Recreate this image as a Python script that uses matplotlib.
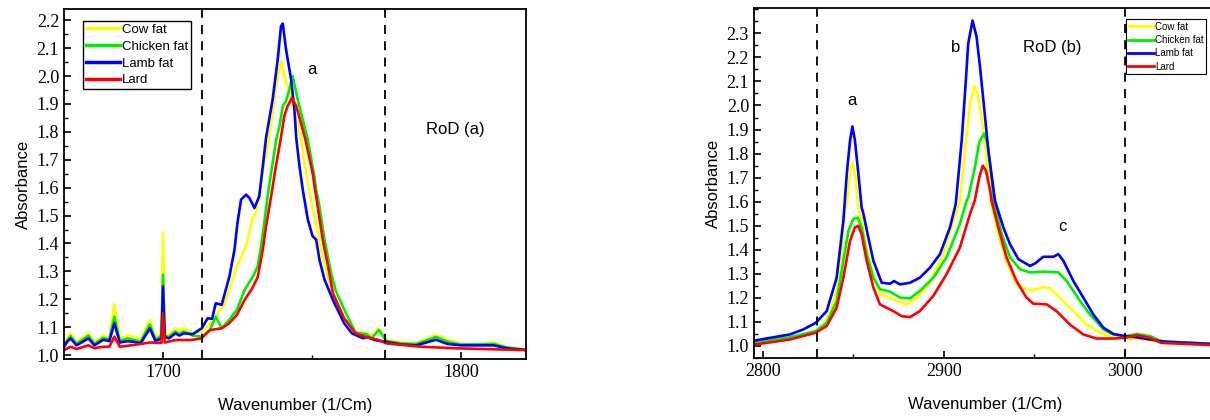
# -*- coding: utf-8 -*-

# FTIR absorbance of four animal fats: carbonyl band (left) and C-H stretch band (right)
import matplotlib
matplotlib.use('Agg')
import matplotlib.pyplot as plt
from matplotlib.ticker import MultipleLocator

# Parameters for the figure
plt.rcParams['font.family'] = 'Liberation Sans'
plt.rcParams['xtick.direction'] = 'in'
plt.rcParams['ytick.direction'] = 'in'

# Series names and colours
labels = ['Cow fat', 'Chicken fat', 'Lamb fat', 'Lard']
colors = ['#ffff00', '#00ee00', '#0000ff', '#ff0000']

# ---- Carbonyl region (1666-1822 1/cm) ----
cow_a_wn = [1666.8, 1669, 1671, 1675, 1677, 1680, 1682, 1683.7, 1685.5, 1688, 1690, 1692.5,
            1695.6, 1697.5, 1699.5, 1700, 1700.6, 1702, 1704.2, 1705.5, 1707, 1710, 1713,
            1717, 1719, 1720.3, 1722.2, 1724.8, 1727.4, 1728.5, 1730, 1731.2, 1732.3, 1733.5,
            1735.7, 1736.8, 1737.9, 1739.6, 1741.3, 1742.4, 1744.5, 1746.3, 1748, 1750.2,
            1751.9, 1753.6, 1755.3, 1758, 1760.8, 1764.6, 1768.4, 1770, 1772.4, 1775, 1780,
            1785, 1791.6, 1795.5, 1800, 1805, 1811, 1815, 1822]
cow_a_abs = [1.042, 1.078, 1.045, 1.078, 1.045, 1.07, 1.06, 1.182, 1.06, 1.07, 1.065, 1.055,
             1.126, 1.06, 1.08, 1.438, 1.08, 1.07, 1.096, 1.085, 1.096, 1.08, 1.084,
             1.126, 1.162, 1.174, 1.234, 1.318, 1.378, 1.414, 1.49, 1.51, 1.581, 1.653,
             1.784, 1.869, 1.963, 2.053, 1.976, 1.952, 1.85, 1.772, 1.653, 1.533,
             1.438, 1.342, 1.28, 1.19, 1.13, 1.084, 1.078, 1.065, 1.096, 1.054, 1.045,
             1.042, 1.072, 1.055, 1.04, 1.035, 1.045, 1.03, 1.02]

chicken_a_wn = [1666.8, 1669, 1671, 1675, 1677, 1680, 1682, 1683.7, 1685.5, 1688, 1690, 1692.5,
                1695.6, 1697.5, 1699.5, 1700, 1700.6, 1702, 1704.2, 1705.5, 1707, 1710, 1713,
                1715.8, 1717.7, 1719.7, 1722.2, 1724.8, 1727.4, 1730.1, 1731.8, 1732.9, 1734,
                1735.1, 1736.3, 1738, 1739.1, 1740.2, 1741.3, 1742.4, 1743.5, 1745.2, 1746.9,
                1748.6, 1750.8, 1751.4, 1752.5, 1754.2, 1756.4, 1758, 1761.4, 1764.6, 1768.4,
                1770, 1772.4, 1775, 1780, 1785, 1791.6, 1795.5, 1800, 1811, 1815, 1822]
chicken_a_abs = [1.035, 1.068, 1.04, 1.07, 1.04, 1.062, 1.055, 1.138, 1.05, 1.06, 1.055, 1.048,
                 1.11, 1.055, 1.07, 1.288, 1.07, 1.065, 1.085, 1.075, 1.085, 1.07, 1.066,
                 1.09, 1.138, 1.096, 1.126, 1.162, 1.234, 1.28, 1.318, 1.39, 1.474,
                 1.569, 1.653, 1.772, 1.82, 1.892, 1.91, 1.952, 2.0, 1.916, 1.844,
                 1.772, 1.641, 1.593, 1.533, 1.414, 1.295, 1.23, 1.15, 1.08, 1.075,
                 1.06, 1.09, 1.05, 1.042, 1.04, 1.065, 1.048, 1.038, 1.04, 1.028, 1.018]

lamb_a_wn = [1666.8, 1668, 1669, 1671, 1675, 1677, 1680, 1682, 1683.7, 1685.5, 1688, 1690,
             1692.5, 1695.6, 1697.5, 1699.5, 1700, 1700.6, 1702, 1704.2, 1705.5, 1707, 1710,
             1713, 1715, 1716.5, 1717.7, 1719.7, 1722.3, 1724, 1725, 1726.2, 1727.9, 1729,
             1730.7, 1732.3, 1733.5, 1734.6, 1736.8, 1738.5, 1739.6, 1740.2, 1741.3, 1743,
             1744.1, 1744.7, 1745.8, 1746.9, 1748.6, 1750.2, 1751.4, 1752.5, 1754.2, 1757,
             1760.8, 1763.4, 1767.2, 1768.5, 1771, 1774.4, 1780, 1785, 1791.6, 1795.5, 1800,
             1811, 1815, 1822]
lamb_a_abs = [1.03, 1.05, 1.06, 1.035, 1.06, 1.035, 1.055, 1.05, 1.114, 1.045, 1.05, 1.048,
              1.042, 1.096, 1.05, 1.06, 1.246, 1.065, 1.06, 1.078, 1.07, 1.078, 1.075,
              1.096, 1.132, 1.13, 1.186, 1.18, 1.282, 1.378, 1.474, 1.557, 1.575, 1.563,
              1.527, 1.569, 1.677, 1.78, 1.916, 2.059, 2.178, 2.188, 2.095, 1.987,
              1.88, 1.78, 1.677, 1.593, 1.486, 1.426, 1.414, 1.342, 1.271, 1.198,
              1.114, 1.078, 1.06, 1.065, 1.054, 1.048, 1.038, 1.035, 1.055, 1.04, 1.035,
              1.035, 1.025, 1.018]

lard_a_wn = [1666.8, 1669, 1671, 1675, 1677, 1680, 1682, 1683.7, 1685.5, 1690, 1695.6, 1699.5,
             1700, 1700.6, 1704.2, 1709.4, 1713, 1715.8, 1719.7, 1722.2, 1724.8, 1727.4, 1730,
             1731.8, 1733.5, 1734.6, 1736.3, 1737.9, 1739.6, 1740.7, 1741.8, 1743.3, 1744.7,
             1746.3, 1747.8, 1750.2, 1751.9, 1753.6, 1755.8, 1757, 1760.8, 1764.6, 1768.4,
             1772.4, 1775, 1786.5, 1799.4, 1822]
lard_a_abs = [1.018, 1.03, 1.022, 1.035, 1.025, 1.03, 1.03, 1.066, 1.03, 1.036, 1.045, 1.044,
              1.15, 1.045, 1.054, 1.054, 1.06, 1.09, 1.096, 1.114, 1.144, 1.198, 1.24,
              1.28, 1.378, 1.462, 1.569, 1.677, 1.78, 1.856, 1.892, 1.922, 1.892,
              1.832, 1.772, 1.653, 1.533, 1.414, 1.295, 1.222, 1.132, 1.078, 1.064,
              1.054, 1.042, 1.03, 1.024, 1.018]

# ---- C-H stretching region (2795-3050 1/cm) ----
cow_b_wn = [2795.6, 2814.9, 2829.1, 2835.2, 2840.7, 2843.4, 2845.3, 2846.7, 2848.1, 2849.6,
            2851.1, 2852.7, 2854.5, 2857.3, 2861, 2864.6, 2870.2, 2873.8, 2879.4, 2884.9,
            2892.3, 2899.6, 2905.2, 2908.5, 2911.6, 2914.4, 2916.8, 2919, 2921.7, 2924.5,
            2926.3, 2930, 2934.6, 2940.1, 2947.5, 2954.9, 2958.6, 2964.1, 2971.5, 2978.8,
            2986.2, 2993.6, 3000, 3006.5, 3013.8, 3023, 3047]
cow_b_abs = [1.013, 1.034, 1.059, 1.103, 1.229, 1.396, 1.562, 1.604, 1.729, 1.764,
             1.701, 1.576, 1.52, 1.409, 1.298, 1.215, 1.201, 1.187, 1.173, 1.201,
             1.263, 1.382, 1.52, 1.59, 1.813, 2.008, 2.08, 2.036, 1.897, 1.716,
             1.59, 1.465, 1.354, 1.257, 1.229, 1.245, 1.24, 1.201, 1.145, 1.089,
             1.055, 1.036, 1.031, 1.03, 1.023, 1.015, 1.006]

chicken_b_wn = [2795.6, 2814.9, 2829.1, 2835.2, 2840.7, 2844.4, 2847.2, 2849.9, 2852.3, 2854.5,
                2857.3, 2861, 2864.6, 2870.2, 2875.7, 2881.2, 2886.7, 2894.1, 2901.4, 2908.8,
                2912.5, 2913.5, 2917.1, 2919.5, 2922.1, 2924.1, 2926, 2927.6, 2931.9, 2936.5,
                2942, 2947.5, 2954.9, 2963.2, 2967.8, 2975.2, 2980.7, 2988.1, 2993.6, 3000,
                3006.5, 3013.8, 3020, 3047]
chicken_b_abs = [1.017, 1.036, 1.062, 1.096, 1.187, 1.354, 1.479, 1.528, 1.534, 1.493,
                 1.382, 1.284, 1.236, 1.226, 1.201, 1.198, 1.229, 1.284, 1.368, 1.507,
                 1.604, 1.62, 1.743, 1.848, 1.883, 1.841, 1.72, 1.604, 1.465, 1.368,
                 1.319, 1.306, 1.309, 1.306, 1.27, 1.187, 1.131, 1.069, 1.048, 1.041,
                 1.05, 1.041, 1.02, 1.009]

lamb_b_wn = [2795.6, 2814.9, 2822.3, 2829.1, 2835.2, 2840.7, 2844.4, 2846.3, 2848.1, 2849.4,
             2850.8, 2852.7, 2854.5, 2855.5, 2858.2, 2861, 2865.6, 2870.2, 2872.4, 2875.7,
             2881.2, 2886.7, 2892.3, 2897.8, 2903.3, 2906.5, 2909.8, 2911.6, 2913.4, 2915.8,
             2918, 2919.9, 2922.7, 2924.5, 2928.2, 2932.8, 2936.5, 2941.1, 2947.5, 2950.3,
             2954.9, 2960.5, 2963.2, 2966, 2971.5, 2977, 2982.5, 2988.1, 2993.6, 3000,
             3006.5, 3013.8, 3023, 3047]
lamb_b_abs = [1.023, 1.048, 1.069, 1.096, 1.145, 1.284, 1.52, 1.716, 1.855, 1.913,
              1.855, 1.716, 1.576, 1.549, 1.451, 1.354, 1.263, 1.259, 1.27, 1.256,
              1.263, 1.284, 1.326, 1.382, 1.493, 1.59, 1.855, 2.05, 2.258, 2.353,
              2.286, 2.161, 1.952, 1.813, 1.604, 1.493, 1.423, 1.361, 1.333, 1.343,
              1.371, 1.371, 1.382, 1.354, 1.27, 1.201, 1.131, 1.076, 1.05, 1.041,
              1.036, 1.027, 1.017, 1.009]

lard_b_wn = [2795.6, 2814.9, 2829.1, 2835.2, 2840.7, 2844.4, 2848.1, 2850.8, 2852.7, 2854.5,
             2857.3, 2861, 2864.6, 2868.3, 2872, 2876.6, 2881.2, 2886.7, 2894.1, 2901.4,
             2908.8, 2914.4, 2917, 2919.5, 2921.4, 2923.2, 2925.5, 2926.3, 2930, 2934.6,
             2940.1, 2945.6, 2949.3, 2956.7, 2962.2, 2969.6, 2977, 2984.3, 2993.6, 3000,
             3006.5, 3013.8, 3020, 3047]
lard_b_abs = [1.006, 1.027, 1.055, 1.083, 1.159, 1.284, 1.437, 1.493, 1.5, 1.465,
              1.354, 1.243, 1.173, 1.159, 1.145, 1.124, 1.12, 1.145, 1.208, 1.298,
              1.409, 1.549, 1.604, 1.701, 1.75, 1.729, 1.646, 1.604, 1.493, 1.368,
              1.27, 1.201, 1.176, 1.173, 1.145, 1.089, 1.048, 1.031, 1.031, 1.034,
              1.045, 1.034, 1.013, 1.004]

# Region-of-difference boundaries
rod_a = [1713, 1774.5]
rod_b = [2830, 3000]

series_a = [(cow_a_wn, cow_a_abs), (chicken_a_wn, chicken_a_abs),
            (lamb_a_wn, lamb_a_abs), (lard_a_wn, lard_a_abs)]
series_b = [(cow_b_wn, cow_b_abs), (chicken_b_wn, chicken_b_abs),
            (lamb_b_wn, lamb_b_abs), (lard_b_wn, lard_b_abs)]

fig = plt.figure(figsize=(12.1, 4.2), dpi=100)
ax1 = fig.add_axes([0.0529, 0.1452, 0.3818, 0.8333])
ax2 = fig.add_axes([0.6231, 0.1476, 0.3814, 0.8326])


def style_axes(ax, xlim, ylim, ytop):
    ax.set_xlim(*xlim)
    ax.set_ylim(*ylim)
    ax.xaxis.set_major_locator(MultipleLocator(100))
    ax.xaxis.set_minor_locator(MultipleLocator(50))
    ax.set_yticks([round(1.0 + 0.1 * i, 1) for i in range(int(round((ytop - 1.0) / 0.1)) + 1)])
    ax.yaxis.set_minor_locator(MultipleLocator(0.05))
    ax.yaxis.set_major_formatter(plt.FormatStrFormatter('%.1f'))
    ax.tick_params(which='major', length=5, width=1.2, top=False, right=False)
    ax.tick_params(which='minor', length=3, width=1.0, top=False, right=False)
    for lab in ax.get_xticklabels() + ax.get_yticklabels():
        lab.set_fontfamily('Liberation Serif')
        lab.set_fontsize(13)
    for sp in ax.spines.values():
        sp.set_linewidth(1.3)
    ax.set_xlabel('Wavenumber (1/Cm)', fontsize=12, labelpad=12)
    ax.set_ylabel('Absorbance', fontsize=12, labelpad=4)


# Left panel
for (wn, ab), col, lab in zip(series_a, colors, labels):
    ax1.plot(wn, ab, color=col, lw=1.9, label=lab)
for xv in rod_a:
    ax1.axvline(xv, color='k', ls=(0, (5, 4)), lw=1.3)
style_axes(ax1, (1666.8, 1821.8), (0.986, 2.24), 2.2)
ax1.text(1750.1, 2.023, 'a', fontsize=12, ha='center', va='center')
ax1.text(1798.1, 1.808, 'RoD (a)', fontsize=12, ha='center', va='center')
leg1 = ax1.legend(loc='upper left', bbox_to_anchor=(0.041, 0.966), fontsize=9.5,
                  handlelength=2.6, handletextpad=0.15, labelspacing=0.35,
                  borderpad=0.2, borderaxespad=0, fancybox=False, framealpha=1)
leg1.get_frame().set_edgecolor('k')
leg1.get_frame().set_linewidth(1.0)
for ln in leg1.get_lines():
    ln.set_linewidth(2.5)

# Right panel
for (wn, ab), col, lab in zip(series_b, colors, labels):
    ax2.plot(wn, ab, color=col, lw=1.9, label=lab)
for xv in rod_b:
    ax2.axvline(xv, color='k', ls=(0, (5, 4)), lw=1.3)
style_axes(ax2, (2795, 3050), (0.95, 2.404), 2.3)
ax2.text(2849.2, 2.022, 'a', fontsize=12, ha='center', va='center')
ax2.text(2906.5, 2.243, 'b', fontsize=12, ha='center', va='center')
ax2.text(2959.7, 2.243, 'RoD (b)', fontsize=12, ha='center', va='center')
ax2.text(2965.2, 1.496, 'c', fontsize=12, ha='center', va='center')
leg2 = ax2.legend(loc='upper left', bbox_to_anchor=(0.806, 0.969), fontsize=7,
                  handlelength=2.6, handletextpad=0.12, labelspacing=0.35,
                  borderpad=0.25, borderaxespad=0, fancybox=False, framealpha=1)
leg2.get_frame().set_edgecolor('k')
leg2.get_frame().set_linewidth(0.8)
for ln in leg2.get_lines():
    ln.set_linewidth(2.0)

fig.savefig('out.png', dpi=100)
